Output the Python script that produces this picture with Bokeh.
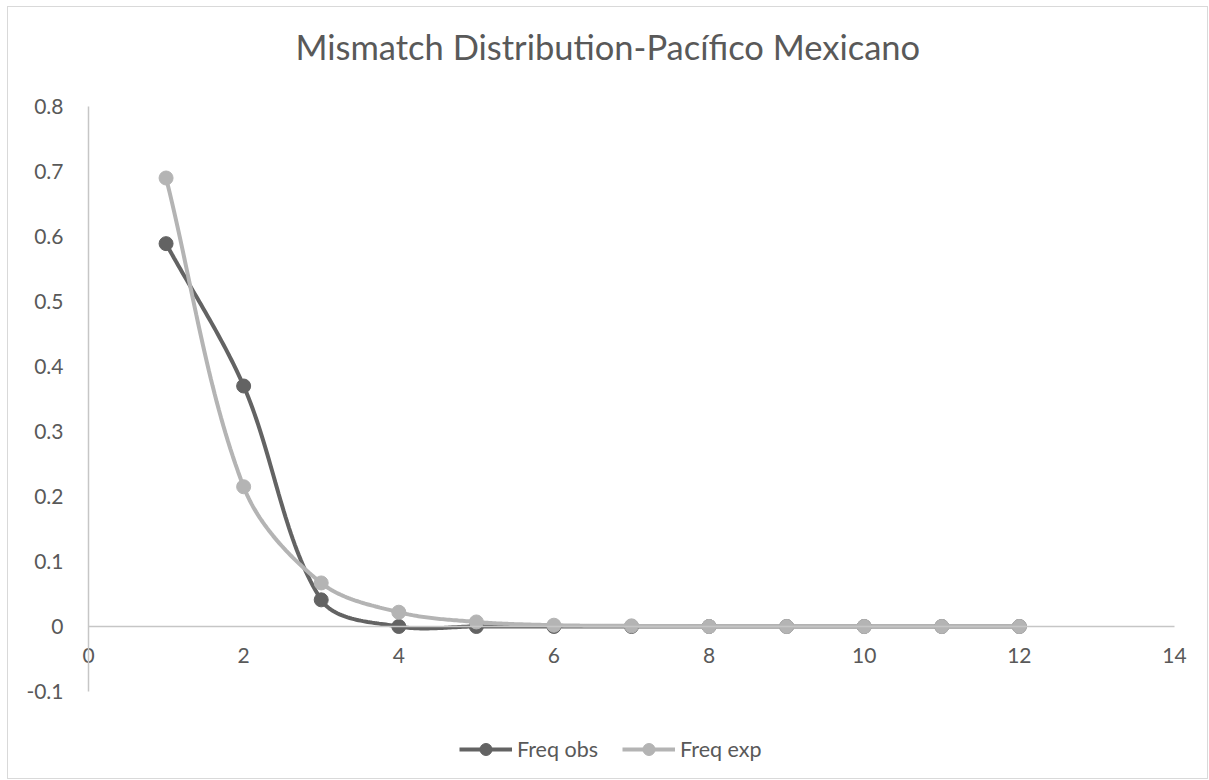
import numpy as np
from bokeh.plotting import figure
from bokeh.models import Range1d, Legend, LegendItem, FixedTicker, Title, CustomJSTickFormatter
from bokeh.embed import file_html
from bokeh.resources import INLINE

# ---- data ----
x_vals = [1, 2, 3, 4, 5, 6, 7, 8, 9, 10, 11, 12]
freq_obs = [0.589, 0.370, 0.041, 0.0, 0.0, 0.0, 0.0, 0.0, 0.0, 0.0, 0.0, 0.0]
freq_exp = [0.690, 0.215, 0.067, 0.022, 0.007, 0.002, 0.001, 0.0, 0.0, 0.0, 0.0, 0.0]
x_ticks = [0, 2, 4, 6, 8, 10, 12, 14]
y_ticks = [-0.1, 0, 0.1, 0.2, 0.3, 0.4, 0.5, 0.6, 0.7, 0.8]
title_text = "Mismatch Distribution-Pacífico Mexicano"
series_names = ["Freq obs", "Freq exp"]

OBS_COLOR = "#636363"
EXP_COLOR = "#b4b4b4"
TEXT_COLOR = "#595959"
AXIS_COLOR = "#c6c6c6"
FONT = "Lato"

W, H = 1201, 773
# screen layout (px inside the figure)
X0_PX, X14_PX = 80, 1166        # where x=0 and x=14 fall
Y08_PX, YM01_PX = 99, 684       # where y=0.8 and y=-0.1 fall
FRAME_TOP = 72

px_per_x = (X14_PX - X0_PX) / (x_ticks[-1] - x_ticks[0])
px_per_y = (YM01_PX - Y08_PX) / (y_ticks[-1] - y_ticks[0])
x_start = x_ticks[0] - X0_PX / px_per_x
x_end = x_ticks[-1] + (W - X14_PX) / px_per_x
y_end = y_ticks[-1] + (Y08_PX - FRAME_TOP) / px_per_y
y_start = y_ticks[0] - (H - YM01_PX) / px_per_y


def smooth(xs, ys, sx, sy, n=40):
    """Excel-like smoothed line: cubic Bezier with tangents weighted by segment lengths."""
    X = np.asarray(xs, float) * sx
    Y = np.asarray(ys, float) * sy
    P = np.stack([X, Y], axis=1)
    m = len(P)
    t = np.linspace(0, 1, n)[:, None]
    out = []
    for i in range(m - 1):
        pm = P[max(i - 1, 0)]
        p0 = P[i]
        p1 = P[i + 1]
        pn = P[min(i + 2, m - 1)]
        d_prev = np.linalg.norm(p0 - pm)
        d_i = np.linalg.norm(p1 - p0)
        d_next = np.linalg.norm(pn - p1)
        f1 = (d_i / (d_prev + d_i)) / 3.0 if (d_prev + d_i) > 0 else 0
        f2 = (d_i / (d_i + d_next)) / 3.0 if (d_i + d_next) > 0 else 0
        c1 = p0 + (p1 - pm) * f1
        c2 = p1 - (pn - p0) * f2
        b = (1 - t) ** 3 * p0 + 3 * (1 - t) ** 2 * t * c1 + 3 * (1 - t) * t ** 2 * c2 + t ** 3 * p1
        out.append(b)
    out = np.concatenate(out)
    return (out[:, 0] / sx).tolist(), (out[:, 1] / sy).tolist()


p = figure(
    width=W, height=H,
    x_range=Range1d(x_start, x_end), y_range=Range1d(y_start, y_end),
    output_backend="svg", toolbar_location=None,
    min_border_left=0, min_border_right=0,
    min_border_top=FRAME_TOP, min_border_bottom=0,
    background_fill_color="white", border_fill_color="white",
)
p.outline_line_color = None
p.grid.visible = False
p.styles = {"border": "1px solid #d9d9d9", "box-sizing": "border-box",
            "margin-left": "7px", "margin-top": "6px"}

# title
t = Title(text=title_text, align="left", offset=287,
          text_font=FONT, text_font_size="34.5px", text_font_style="normal",
          text_color=TEXT_COLOR, standoff=26)
p.add_layout(t, "above")

# axes
for ax in (p.xaxis, p.yaxis):
    ax.major_tick_line_color = None
    ax.minor_tick_line_color = None
    ax.axis_line_color = AXIS_COLOR
    ax.axis_line_width = 1.5
    ax.major_label_text_font = FONT
    ax.major_label_text_font_size = "21px"
    ax.major_label_text_color = TEXT_COLOR

p.xaxis.ticker = FixedTicker(ticks=x_ticks)
p.yaxis.ticker = FixedTicker(ticks=y_ticks)
p.yaxis.formatter = CustomJSTickFormatter(code="""
var s = tick.toFixed(1);
if (s === "0.0" || s === "-0.0") return "0";
return s;
""")
p.xaxis.fixed_location = 0
p.yaxis.fixed_location = 0
p.xaxis.bounds = (x_ticks[0], x_ticks[-1])
p.yaxis.bounds = (y_ticks[0], y_ticks[-1])
p.xaxis.major_label_standoff = 15
p.yaxis.major_label_standoff = 19

# series
ox, oy = smooth(x_vals, freq_obs, px_per_x, px_per_y)
ex, ey = smooth(x_vals, freq_exp, px_per_x, px_per_y)

l_obs = p.line(ox, oy, line_color=OBS_COLOR, line_width=4)
s_obs = p.scatter(x_vals, freq_obs, size=14, fill_color=OBS_COLOR, line_color=OBS_COLOR)
l_exp = p.line(ex, ey, line_color=EXP_COLOR, line_width=4)
s_exp = p.scatter(x_vals, freq_exp, size=14, fill_color=EXP_COLOR, line_color=EXP_COLOR)

legend = Legend(
    items=[LegendItem(label=series_names[0], renderers=[l_obs, s_obs]),
           LegendItem(label=series_names[1], renderers=[l_exp, s_exp])],
    orientation="horizontal", location=(451, 16),
    glyph_width=53, glyph_height=30, label_height=30,
    label_text_font=FONT, label_text_font_size="21.5px", label_text_color=TEXT_COLOR,
    label_standoff=5, spacing=24, padding=5,
    border_line_color=None, background_fill_alpha=0,
)
p.add_layout(legend, "center")

open("out.html", "w").write(file_html(p, INLINE))
